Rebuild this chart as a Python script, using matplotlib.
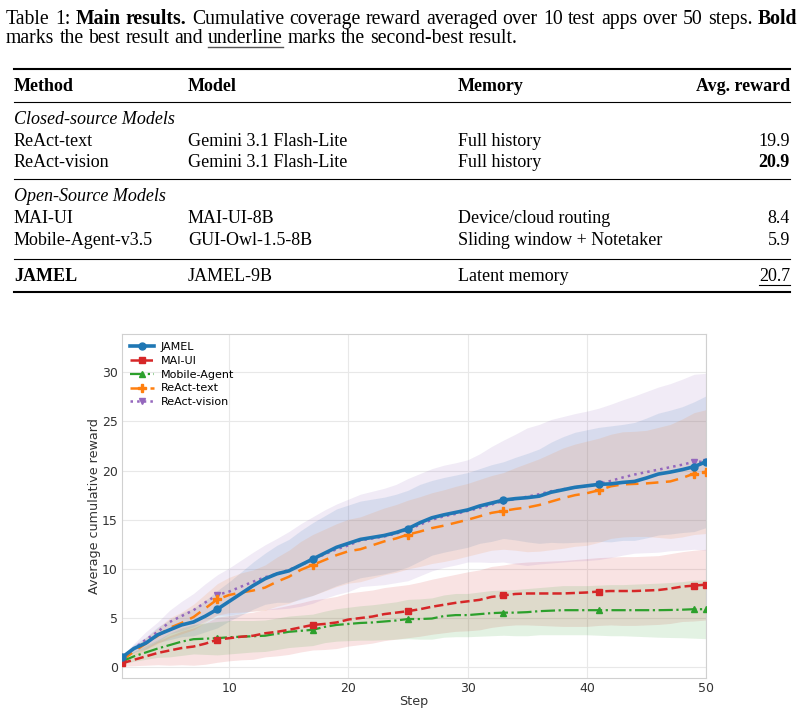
import numpy as np
import matplotlib.pyplot as plt
from matplotlib.lines import Line2D

# ---------------- datos ----------------
steps = np.arange(1, 51)

jamel = [1.0, 1.9, 2.45, 3.3, 3.8, 4.3, 4.6, 5.2, 5.9, 6.7,
         7.5, 8.3, 9.0, 9.5, 9.8, 10.4, 11.0, 11.6, 12.2, 12.6,
         13.0, 13.2, 13.4, 13.7, 14.1, 14.7, 15.2, 15.5, 15.75, 16.0,
         16.4, 16.7, 17.0, 17.15, 17.25, 17.4, 17.8, 18.05, 18.3, 18.45,
         18.6, 18.65, 18.8, 18.9, 19.25, 19.65, 19.85, 20.1, 20.4, 20.9]
mai_ui = [0.4, 0.75, 1.1, 1.45, 1.7, 1.95, 2.1, 2.4, 2.8, 2.95,
          3.1, 3.2, 3.45, 3.6, 3.8, 4.05, 4.3, 4.4, 4.55, 4.85,
          5.0, 5.15, 5.4, 5.55, 5.7, 5.9, 6.15, 6.35, 6.55, 6.7,
          6.85, 7.15, 7.3, 7.45, 7.5, 7.5, 7.5, 7.5, 7.55, 7.6,
          7.7, 7.75, 7.75, 7.75, 7.8, 7.85, 8.0, 8.2, 8.3, 8.4]
mobile = [0.6, 1.1, 1.5, 1.9, 2.25, 2.6, 2.85, 2.9, 2.95, 3.05,
          3.1, 3.15, 3.2, 3.4, 3.6, 3.7, 3.8, 4.1, 4.3, 4.4,
          4.5, 4.55, 4.65, 4.75, 4.9, 4.9, 4.95, 5.2, 5.3, 5.3,
          5.4, 5.5, 5.55, 5.55, 5.6, 5.7, 5.75, 5.8, 5.8, 5.8,
          5.8, 5.8, 5.8, 5.8, 5.8, 5.8, 5.82, 5.85, 5.9, 5.9]
react_text = [0.7, 1.6, 2.4, 3.2, 4.0, 4.5, 5.1, 6.0, 6.9, 7.35,
              7.6, 7.8, 8.1, 8.7, 9.2, 9.9, 10.4, 10.9, 11.4, 11.8,
              12.0, 12.4, 12.8, 13.1, 13.5, 13.8, 14.15, 14.4, 14.7, 15.0,
              15.35, 15.7, 15.9, 16.1, 16.25, 16.5, 16.85, 17.2, 17.5, 17.7,
              18.0, 18.4, 18.6, 18.65, 18.7, 18.8, 18.9, 19.25, 19.7, 19.9]
react_vision = [1.0, 1.9, 2.8, 3.6, 4.6, 5.2, 5.8, 6.6, 7.35, 7.7,
                8.2, 8.7, 9.15, 9.5, 9.9, 10.4, 10.9, 11.5, 12.0, 12.4,
                12.9, 13.1, 13.3, 13.6, 14.0, 14.5, 15.0, 15.35, 15.6, 15.9,
                16.2, 16.55, 16.9, 17.1, 17.35, 17.6, 17.9, 18.1, 18.3, 18.45,
                18.65, 18.95, 19.3, 19.6, 19.85, 20.1, 20.35, 20.6, 20.9, 20.9]

# semiancho de la banda sombreada
jamel_sd = [0.2, 0.4, 0.6, 0.8, 1.0, 1.2, 1.4, 1.6, 1.9, 2.0,
            2.2, 2.4, 2.6, 2.9, 3.2, 3.5, 3.7, 3.8, 3.9, 3.9,
            3.9, 3.9, 3.9, 3.9, 3.9, 3.9, 3.8, 3.8, 3.8, 3.8,
            3.8, 3.9, 3.9, 4.2, 4.5, 4.8, 5.1, 5.4, 5.6, 5.7,
            5.8, 5.9, 5.9, 6.0, 6.1, 6.2, 6.3, 6.4, 6.6, 6.7]
mai_ui_sd = [0.3, 0.6, 0.9, 1.2, 1.5, 1.7, 1.9, 2.1, 2.3, 2.3,
             2.35, 2.4, 2.4, 2.45, 2.5, 2.5, 2.55, 2.6, 2.65, 2.7,
             2.7, 2.7, 2.7, 2.7, 2.7, 2.75, 2.8, 2.85, 2.9, 3.0,
             3.05, 3.1, 3.1, 3.15, 3.2, 3.25, 3.3, 3.35, 3.4, 3.45,
             3.45, 3.45, 3.5, 3.5, 3.5, 3.5, 3.55, 3.55, 3.6, 3.6]
mobile_sd = [0.3, 0.5, 0.7, 0.9, 1.2, 1.4, 1.5, 1.6, 1.7, 1.7,
             1.65, 1.6, 1.6, 1.6, 1.6, 1.6, 1.6, 1.6, 1.65, 1.7,
             1.75, 1.8, 1.85, 1.9, 2.0, 2.05, 2.1, 2.15, 2.2, 2.2,
             2.25, 2.3, 2.3, 2.35, 2.4, 2.4, 2.45, 2.5, 2.5, 2.5,
             2.55, 2.6, 2.6, 2.65, 2.7, 2.75, 2.8, 2.85, 2.95, 3.0]
react_text_sd = [0.2, 0.4, 0.6, 0.8, 1.0, 1.1, 1.3, 1.45, 1.6, 1.8,
                 2.0, 2.1, 2.3, 2.5, 2.7, 2.9, 3.1, 3.15, 3.2, 3.25,
                 3.3, 3.35, 3.4, 3.45, 3.5, 3.55, 3.6, 3.65, 3.7, 3.7,
                 3.75, 3.8, 3.9, 4.2, 4.5, 4.7, 4.9, 5.1, 5.2, 5.3,
                 5.3, 5.3, 5.35, 5.35, 5.4, 5.6, 5.8, 6.0, 6.2, 6.3]
react_vision_sd = [0.2, 0.5, 0.8, 1.0, 1.2, 1.5, 1.7, 1.9, 2.05, 2.4,
                   2.7, 3.0, 3.3, 3.6, 3.9, 4.2, 4.4, 4.5, 4.6, 4.7,
                   4.7, 4.8, 4.9, 5.0, 5.2, 5.2, 5.2, 5.2, 5.2, 5.2,
                   5.5, 5.9, 6.2, 6.6, 7.0, 7.1, 7.3, 7.4, 7.5, 7.6,
                   7.7, 7.8, 7.9, 8.0, 8.2, 8.4, 8.5, 8.7, 8.9, 9.0]

# tabla
col_headers = ["Method", "Model", "Memory", "Avg. reward"]
closed_rows = [["ReAct-text", "Gemini 3.1 Flash-Lite", "Full history", "19.9"],
               ["ReAct-vision", "Gemini 3.1 Flash-Lite", "Full history", "20.9"]]
open_rows = [["MAI-UI", "MAI-UI-8B", "Device/cloud routing", "8.4"],
             ["Mobile-Agent-v3.5", "GUI-Owl-1.5-8B", "Sliding window + Notetaker", "5.9"]]
ours_row = ["JAMEL", "JAMEL-9B", "Latent memory", "20.7"]

W, H = 804, 713
fig = plt.figure(figsize=(W / 100, H / 100), dpi=100)
serif = ['Liberation Serif', 'DejaVu Serif']
FS = 13
CAP_FS = 14.2


def fx(px):
    return px / W


def fy(py):
    return 1 - py / H


renderer = fig.canvas.get_renderer()


def text_width(s, **kw):
    t = fig.text(0, 0, s, fontsize=CAP_FS, family=serif, **kw)
    w = t.get_window_extent(renderer).width
    t.remove()
    return w


def word_line(x, y, words, right=None):
    # palabras sueltas; si hay "right" se justifica la linea como en LaTeX
    arts = []
    for w, weight in words:
        t = fig.text(fx(x), fy(y), w, fontsize=CAP_FS, family=serif,
                     weight=weight, va='baseline', ha='left')
        arts.append([t, t.get_window_extent(renderer).width])
    space = text_width("a a") - 2 * text_width("a")
    total = sum(a[1] for a in arts)
    gap = space if right is None else (right - x - total) / (len(arts) - 1)
    pos = x
    out = []
    for t, wd in arts:
        t.set_x(fx(pos))
        out.append((pos, wd))
        pos += wd + gap
    return out


line1 = [("Table", 'normal'), ("1:", 'normal'), ("Main", 'bold'), ("results.", 'bold')]
line1 += [(w, 'normal') for w in "Cumulative coverage reward averaged over 10 test apps over 50 steps.".split()]
line1 += [("Bold", 'bold')]
word_line(6, 24, line1, right=797)
line2 = [(w, 'normal') for w in "marks the best result and underline marks the second-best result.".split()]
pos2 = word_line(6, 43, line2)
ux, uw = pos2[5]
fig.add_artist(Line2D([fx(ux), fx(ux + uw)], [fy(46.5), fy(46.5)], color='#555555', lw=1))

# reglas de la tabla
x0, x1 = 14, 790
for yy, lw in [(69, 1.5), (102, 0.8), (179, 0.8), (259, 0.8), (292, 1.5)]:
    fig.add_artist(Line2D([fx(x0), fx(x1)], [fy(yy), fy(yy)], color='black', lw=lw))

col_x = [14, 188, 458, 790]


def row(y, cells, weights=None):
    weights = weights or ['normal'] * 4
    arts = []
    for i, (c, w) in enumerate(zip(cells, weights)):
        ha = 'right' if i == 3 else 'left'
        arts.append(fig.text(fx(col_x[i]), fy(y), c, fontsize=FS, family=serif, weight=w,
                             ha=ha, va='baseline'))
    return arts


row(91, col_headers, ['bold'] * 4)
fig.text(fx(14), fy(124), "Closed-source Models", fontsize=FS, family=serif, style='italic', va='baseline')
row(146, closed_rows[0])
row(167, closed_rows[1], ['normal', 'normal', 'normal', 'bold'])
fig.text(fx(14), fy(201), "Open-Source Models", fontsize=FS, family=serif, style='italic', va='baseline')
row(223, open_rows[0])
row(245, open_rows[1])
t = row(281, ours_row, ['bold', 'normal', 'normal', 'normal'])[-1]
bb = t.get_window_extent(renderer)
fig.add_artist(Line2D([bb.x0 / W, bb.x1 / W], [fy(285), fy(285)], color='black', lw=0.8))

# ---------------- grafica ----------------
ax = fig.add_axes([fx(122), fy(678), fx(706) - fx(122), fy(334) - fy(678)])

series = [
    ("JAMEL", jamel, jamel_sd, '#1f77b4', '-', 'o', 2.6, 5),
    ("MAI-UI", mai_ui, mai_ui_sd, '#d62728', '--', 's', 1.8, 5),
    ("Mobile-Agent", mobile, mobile_sd, '#2ca02c', '-.', '^', 1.6, 5),
    ("ReAct-text", react_text, react_text_sd, '#ff7f0e', (0, (5, 3)), 'P', 1.8, 6),
    ("ReAct-vision", react_vision, react_vision_sd, '#9467bd', ':', 'v', 1.8, 5),
]
marks = [0, 8, 16, 24, 32, 40, 48, 49]
for name, m, sd, col, ls, mk, lw, ms in series:
    m = np.array(m)
    sd = np.array(sd)
    ax.fill_between(steps, m - sd, m + sd, color=col, alpha=0.13, lw=0)
for i, (name, m, sd, col, ls, mk, lw, ms) in reversed(list(enumerate(series))):
    ax.plot(steps, m, color=col, linestyle=ls, marker=mk, lw=lw, ms=ms,
            markevery=marks, label=name, zorder=5 if i == 0 else 3)

handles, labels = ax.get_legend_handles_labels()
ax.legend(handles[::-1], labels[::-1], loc='upper left', fontsize=8, frameon=False,
          handlelength=2.2, handletextpad=0.6, labelspacing=0.35, borderaxespad=0.3)

ax.set_xlim(1, 50)
ax.set_ylim(-1.1, 33.9)
ax.set_xticks([10, 20, 30, 40, 50])
ax.set_yticks([0, 5, 10, 15, 20, 25, 30])
ax.grid(color='#e8e8e8', lw=0.8)
ax.set_axisbelow(True)
for s in ax.spines.values():
    s.set_color('#d0d0d0')
ax.tick_params(length=0, labelsize=9, labelcolor='#333333', pad=3)
ax.set_xlabel("Step", fontsize=9.2, color='#333333', labelpad=0)
ax.set_ylabel("Average cumulative reward", fontsize=9.2, color='#333333', labelpad=0.5)

plt.savefig("out.png", dpi=100)
